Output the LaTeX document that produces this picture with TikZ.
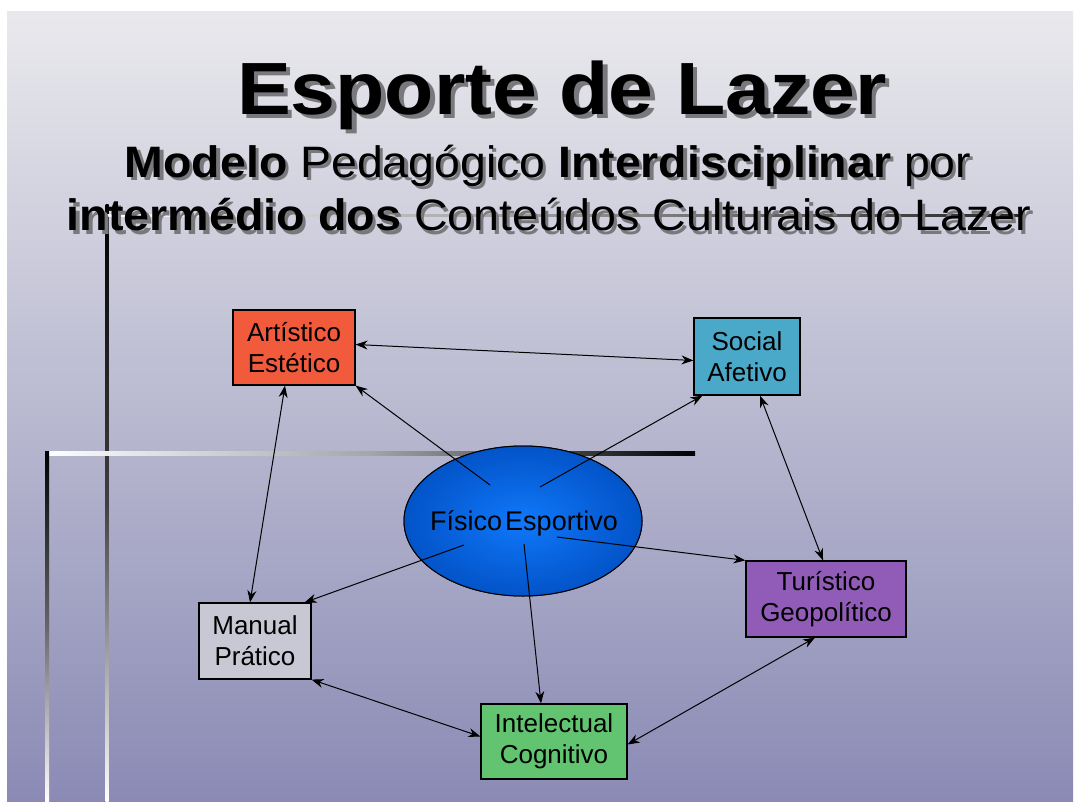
\documentclass[tikz,border=0pt]{standalone}
\usepackage{fontspec}
\setmainfont{Liberation Sans}
\usetikzlibrary{arrows.meta,calc,shapes.geometric}
\definecolor{bgtop}{RGB}{233,233,237}
\definecolor{bgbot}{RGB}{138,138,181}
\definecolor{artfill}{RGB}{242,90,60}
\definecolor{socfill}{RGB}{74,168,200}
\definecolor{turfill}{RGB}{145,92,184}
\definecolor{manfill}{RGB}{200,200,212}
\definecolor{intfill}{RGB}{98,196,112}
\definecolor{ellin}{RGB}{16,120,250}
\definecolor{ellmid}{RGB}{0,76,190}
\definecolor{ellout}{RGB}{0,42,125}
\definecolor{shadowc}{RGB}{120,120,125}
\pgfdeclareradialshading{ellshade}{\pgfpoint{0bp}{0bp}}{color(0bp)=(ellin); color(30bp)=(ellmid); color(50bp)=(ellout); color(72bp)=(ellout)}
\newcommand{\shtxt}[2]{\makebox[0pt][l]{\hspace{#1}\raisebox{-#1}{\textcolor{shadowc}{#2}}}#2}
\tikzset{
  box/.style={draw=black, line width=1.2pt, rectangle, inner sep=0pt, align=center,
    font=\fontsize{26}{31}\selectfont, text=black},
  link/.style={line width=1pt, draw=black},
  tip/.style={-{Stealth[length=12pt,width=9pt]}},
  both/.style={{Stealth[length=12pt,width=9pt]}-{Stealth[length=12pt,width=9pt]}},
  titlefont/.style={font=\fontsize{74}{80}\selectfont\bfseries},
  subfont/.style={font=\fontsize{44}{53}\selectfont},
}
\begin{document}
\begin{tikzpicture}[x=1pt,y=-1pt]
\useasboundingbox (0,0) rectangle (1075,802);
% background
\fill[white] (0,0) rectangle (1075,802);
\shade[top color=bgtop, bottom color=bgbot] (7,12) rectangle (1073,802);
% decorative lines
\shade[top color=black, bottom color=white, middle color=black!75] (105.5,205) rectangle (108.5,802);
\shade[left color=white, right color=black!85] (107,215) rectangle (1025,217);
\shade[left color=white, right color=black, middle color=black!35] (45,451) rectangle (695,455);
\shade[top color=black, bottom color=white, middle color=black!60] (45,451) rectangle (49,802);
% title
\node[titlefont, anchor=base] (title) at (562,115) {\scalebox{1.09}[1]{\shtxt{4pt}{Esporte de Lazer}}};
\node[subfont, anchor=base] (sub1) at (548,178) {\scalebox{1.055}[1]{\shtxt{3pt}{{\bfseries Modelo} Pedagógico {\bfseries Interdisciplinar} por}}};
\node[subfont, anchor=base] (sub2) at (549,231) {\scalebox{1.06}[1]{\shtxt{3pt}{{\bfseries intermédio dos} Conteúdos Culturais do Lazer}}};
% ellipse
\node[ellipse, draw=black, line width=1pt, minimum width=238pt, minimum height=150pt, inner sep=0pt] (ell) at (523,521) {};
\shade[shading=ellshade] (ell.center) ellipse [x radius=119, y radius=75];
\draw[line width=1pt] (ell.center) ellipse [x radius=119, y radius=75];
\node[font=\fontsize{27}{30}\selectfont, anchor=base] (elltext) at (524,530) {Físico\hspace{3pt}Esportivo};
% boxes
\node[box, fill=artfill, minimum width=122pt, minimum height=75pt] (art) at (294,347.5) {Artístico\\Estético};
\node[box, fill=socfill, minimum width=106pt, minimum height=77pt] (soc) at (747,356.5) {Social\\Afetivo};
\node[box, fill=turfill, minimum width=160pt, minimum height=76pt] (tur) at (826,599) {Turístico\\Geopolítico};
\node[box, fill=manfill, minimum width=112pt, minimum height=76pt] (man) at (255,641) {Manual\\Prático};
\node[box, fill=intfill, minimum width=146pt, minimum height=75pt] (int) at (554,741.5) {Intelectual\\Cognitivo};
% inner start points
\coordinate (e1) at (490,485);
\coordinate (e2) at (540,487);
\coordinate (e3) at (464,545);
\coordinate (e4) at (557,537);
\coordinate (e5) at (524,544);
% connectors
\draw[link, both] ($(art.east)+(0,-3)$) -- ($(soc.west)+(0,4)$);
\draw[link, tip] (e1) -- (art.south east);
\draw[link, tip] (e2) -- ($(soc.south west)+(9,0)$);
\draw[link, both] ($(art.south)+(-9,0)$) -- ($(man.north)+(-5,0)$);
\draw[link, both] ($(soc.south)+(13,0)$) -- ($(tur.north)+(-3,0)$);
\draw[link, tip] (e3) -- ($(man.north east)+(-7,0)$);
\draw[link, tip] (e4) -- (tur.north west);
\draw[link, tip] (e5) -- ($(int.north)+(-13,0)$);
\draw[link, both] (man.south east) -- ($(int.west)+(0,-5)$);
\draw[link, both] ($(int.east)+(0,3)$) -- ($(tur.south)+(-11,0)$);
\end{tikzpicture}
\end{document}
